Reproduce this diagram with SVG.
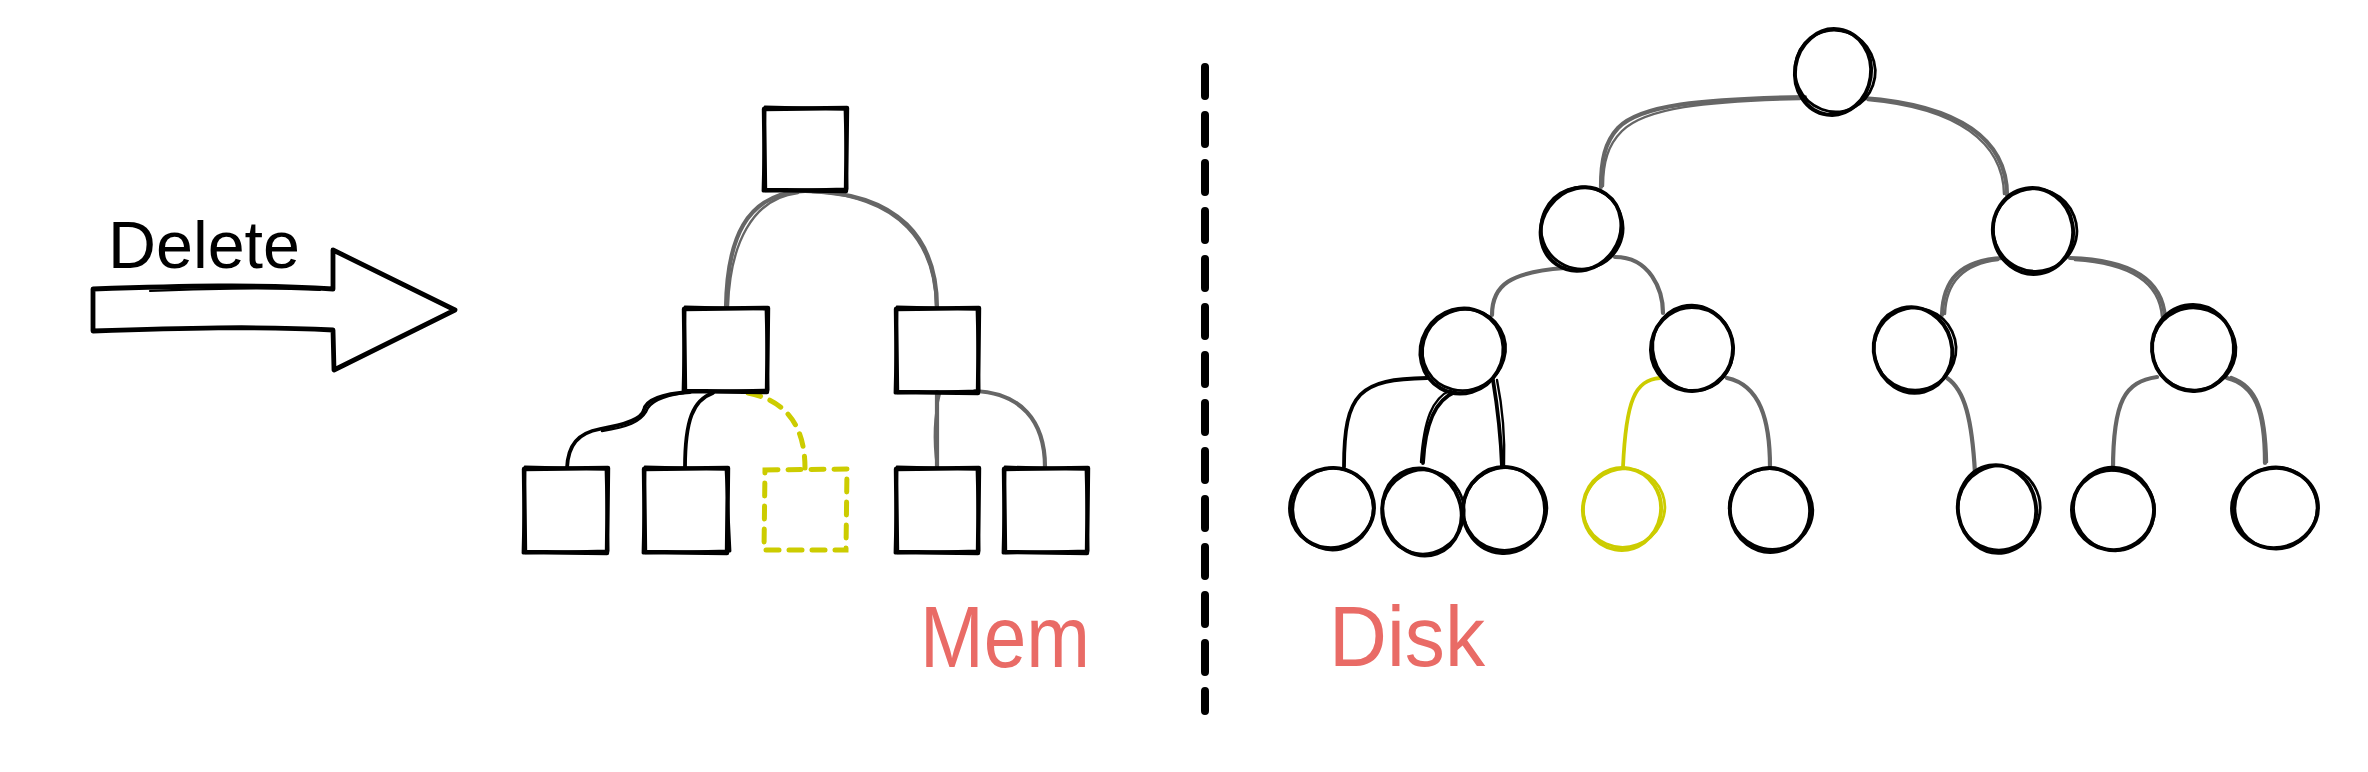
<svg xmlns="http://www.w3.org/2000/svg" width="2368" height="772" viewBox="0 0 2368 772">
<style>
.bg{fill:#ffffff}
.box{fill:none;stroke:#000;stroke-width:4.4;stroke-linejoin:round;stroke-linecap:round}
.box2{fill:none;stroke:#000;stroke-width:2.8;stroke-linejoin:round;stroke-linecap:round}
.ybox{fill:none;stroke:#cccc00;stroke-width:5;stroke-dasharray:13 10;stroke-linecap:round}
.c{fill:none;stroke:#000;stroke-width:3.9}
.c2{fill:none;stroke:#000;stroke-width:2.8}
.yc{fill:none;stroke:#cccc00;stroke-width:3.9}
.yc2{fill:none;stroke:#cccc00;stroke-width:2.8}
.eg{fill:none;stroke:#666;stroke-width:4.2;stroke-linecap:round}
.eg2{fill:none;stroke:#666;stroke-width:2.4;stroke-linecap:round}
.eb{fill:none;stroke:#000;stroke-width:3.8;stroke-linecap:round}
.eb2{fill:none;stroke:#000;stroke-width:2.4;stroke-linecap:round}
.ey{fill:none;stroke:#cccc00;stroke-width:3.8;stroke-linecap:round}
.eyd{fill:none;stroke:#cccc00;stroke-width:5;stroke-linecap:round;stroke-dasharray:13 10}
.arrow{fill:#fff;stroke:#000;stroke-width:4.8;stroke-linejoin:round}
.arrow2{fill:none;stroke:#000;stroke-width:2.2;stroke-linecap:round}
.divider{fill:none;stroke:#000;stroke-width:8;stroke-dasharray:29 19;stroke-linecap:round}
.t{font-family:"Liberation Sans",Arial,sans-serif}
.lbl{fill:#e96b66}
</style>
<rect class="bg" x="0" y="0" width="2368" height="772"/>

<g id="delete-arrow">
<path class="arrow" d="M93 289 C180 286 260 284 333 289 L333 250 L455 310 L334 370 L333 330 C260 326 180 328 93 331 Z"/>
<path class="arrow2" d="M150 291 C220 288 270 287 320 290"/>
<path class="arrow2" d="M150 329 C220 326 270 327 320 329"/>
<text class="t" x="108" y="268" font-size="66" textLength="192" lengthAdjust="spacingAndGlyphs" fill="#000">Delete</text>
</g>

<g id="divider">
<path class="divider" d="M1205 67 L1205 711"/>
</g>

<g id="connectors">
<!-- Mem tree -->
<path class="eg" d="M805 191 C745 193 727 240 726 308"/>
<path class="eg2" d="M798 193 C752 198 730 245 728 306"/>
<path class="eg" d="M805 191 C900 192 937 240 937 308"/>
<path class="eg2" d="M812 192 C902 196 935 245 936 306"/>
<path class="eb" d="M690 392 C660 394 646 400 644 410 C642 418 630 424 600 429 C578 433 568 445 567 468"/>
<path class="eb2" d="M684 393 C662 396 649 402 646 412 C640 422 628 427 602 431"/>
<path class="eb" d="M713 393 C693 400 685 420 685 468"/>
<path class="eyd" d="M748 393 C785 400 805 425 805 468"/>
<path class="eg" d="M937 392 L937 468"/>
<path class="eg2" d="M940 393 C933 420 934 445 937 467"/>
<path class="eg" d="M975 391 C1020 393 1045 420 1045 467"/>
<!-- Disk tree -->
<path class="eg" d="M1805 97 C1700 99 1640 105 1618 128 C1605 142 1601 160 1601 187"/>
<path class="eg2" d="M1800 99 C1705 101 1645 108 1622 131 C1608 145 1603 162 1603 186"/>
<path class="eg" d="M1863 98 C1960 105 2007 140 2007 195"/>
<path class="eg2" d="M1868 100 C1958 108 2003 143 2004 194"/>
<path class="eg" d="M1565 268 C1510 272 1492 285 1492 315"/>
<path class="eg" d="M1615 257 C1650 257 1663 290 1663 313"/>
<path class="eb" d="M1427 378 C1360 379 1344 392 1344 467"/>
<path class="eb" d="M1455 392 C1435 400 1425 425 1423 463"/>
<path class="eb2" d="M1451 390 C1432 398 1424 420 1421 462"/>
<path class="eb" d="M1493 380 C1498 410 1501 440 1502 467"/>
<path class="eb2" d="M1497 380 C1503 410 1505 440 1504 467"/>
<path class="ey" d="M1660 378 C1635 380 1626 400 1623 467"/>
<path class="eg" d="M1727 378 C1760 385 1770 420 1770 467"/>
<path class="eg" d="M2003 258 C1960 260 1943 280 1942 315"/>
<path class="eg2" d="M1998 260 C1962 264 1946 284 1945 314"/>
<path class="eg" d="M2070 258 C2140 260 2163 285 2165 318"/>
<path class="eg2" d="M2075 260 C2138 264 2160 288 2162 317"/>
<path class="eg" d="M1947 378 C1965 390 1972 420 1975 473"/>
<path class="eg" d="M2157 377 C2125 382 2113 400 2113 470"/>
<path class="eg" d="M2227 378 C2255 385 2265 410 2265 463"/>
<path class="eg2" d="M2231 377 C2258 386 2266 412 2267 462"/>
</g>

<!-- Mem nodes -->
<g id="mem-root">
<path class="box" d="M764 109 L847 108 L846 191 L765 190 Z"/>
<path class="box2" d="M765 107 L845 109 L847 189 L763 191 Z"/>
</g>
<g id="mem-l">
<path class="box" d="M684 309 L768 308 L767 392 L685 391 Z"/>
<path class="box2" d="M685 307 L766 309 L768 390 L683 392 Z"/>
</g>
<g id="mem-r">
<path class="box" d="M896 309 L979 308 L978 393 L897 392 Z"/>
<path class="box2" d="M897 307 L977 309 L979 391 L895 393 Z"/>
</g>
<g id="mem-leaf1">
<path class="box" d="M524 469 L608 468 L607 553 L525 552 Z"/>
<path class="box2" d="M525 467 L606 469 L608 551 L523 553 Z"/>
</g>
<g id="mem-leaf2">
<path class="box" d="M644 469 L728 468 L727 553 L645 552 Z"/>
<path class="box2" d="M645 467 L726 469 L730 551 L643 553 Z"/>
</g>
<g id="mem-leaf3-deleted">
<path class="ybox" d="M765 470 L847 469 L846 550 L764 550 Z"/>
</g>
<g id="mem-leaf4">
<path class="box" d="M896 469 L979 468 L978 553 L897 552 Z"/>
<path class="box2" d="M897 467 L977 469 L979 551 L895 553 Z"/>
</g>
<g id="mem-leaf5">
<path class="box" d="M1004 469 L1088 468 L1087 553 L1005 552 Z"/>
<path class="box2" d="M1005 467 L1086 469 L1088 551 L1003 553 Z"/>
</g>
<g id="mem-label">
<text class="t lbl" x="920" y="667" font-size="88" textLength="170" lengthAdjust="spacingAndGlyphs">Mem</text>
</g>

<!-- Disk nodes -->
<g id="disk-root">
<ellipse class="c" cx="1833" cy="72" rx="38" ry="43" transform="rotate(8 1833 72)"/>
<ellipse class="c2" cx="1835" cy="71" rx="40" ry="41" transform="rotate(-25 1835 71)"/>
</g>
<g id="disk-l1a">
<ellipse class="c" cx="1581" cy="229" rx="39" ry="43" transform="rotate(35 1581 229)"/>
<ellipse class="c2" cx="1582" cy="228" rx="41" ry="41" transform="rotate(-20 1582 228)"/>
</g>
<g id="disk-l1b">
<ellipse class="c" cx="2033" cy="231" rx="40" ry="43" transform="rotate(-10 2033 231)"/>
<ellipse class="c2" cx="2035" cy="230" rx="42" ry="41" transform="rotate(25 2035 230)"/>
</g>
<g id="disk-l2a">
<ellipse class="c" cx="1462" cy="351" rx="41" ry="43" transform="rotate(30 1462 351)"/>
<ellipse class="c2" cx="1464" cy="350" rx="42" ry="40" transform="rotate(-30 1464 350)"/>
</g>
<g id="disk-l2b">
<ellipse class="c" cx="1692" cy="349" rx="41" ry="42" transform="rotate(10 1692 349)"/>
<ellipse class="c2" cx="1693" cy="348" rx="40" ry="43" transform="rotate(-15 1693 348)"/>
</g>
<g id="disk-l2c">
<ellipse class="c" cx="1913" cy="350" rx="39" ry="43" transform="rotate(-15 1913 350)"/>
<ellipse class="c2" cx="1915" cy="349" rx="41" ry="41" transform="rotate(20 1915 349)"/>
</g>
<g id="disk-l2d">
<ellipse class="c" cx="2193" cy="348" rx="41" ry="43" transform="rotate(-5 2193 348)"/>
<ellipse class="c2" cx="2194" cy="349" rx="42" ry="41" transform="rotate(20 2194 349)"/>
</g>
<g id="disk-leaf1">
<ellipse class="c" cx="1332" cy="508" rx="42" ry="40" transform="rotate(-10 1332 508)"/>
<ellipse class="c2" cx="1333" cy="509" rx="40" ry="41" transform="rotate(20 1333 509)"/>
</g>
<g id="disk-leaf2">
<ellipse class="c" cx="1422" cy="512" rx="39" ry="44" transform="rotate(-20 1422 512)"/>
<ellipse class="c2" cx="1423" cy="512" rx="41" ry="42" transform="rotate(15 1423 512)"/>
</g>
<g id="disk-leaf3">
<ellipse class="c" cx="1504" cy="510" rx="41" ry="43" transform="rotate(5 1504 510)"/>
<ellipse class="c2" cx="1505" cy="509" rx="42" ry="41" transform="rotate(-30 1505 509)"/>
</g>
<g id="disk-leaf4-deleted">
<ellipse class="yc" cx="1622" cy="509" rx="39" ry="41" transform="rotate(10 1622 509)"/>
<ellipse class="yc2" cx="1624" cy="508" rx="41" ry="39" transform="rotate(-20 1624 508)"/>
</g>
<g id="disk-leaf5">
<ellipse class="c" cx="1770" cy="510" rx="40" ry="42" transform="rotate(-10 1770 510)"/>
<ellipse class="c2" cx="1771" cy="509" rx="42" ry="40" transform="rotate(25 1771 509)"/>
</g>
<g id="disk-leaf6">
<ellipse class="c" cx="1997" cy="509" rx="39" ry="44" transform="rotate(-10 1997 509)"/>
<ellipse class="c2" cx="1999" cy="508" rx="41" ry="42" transform="rotate(15 1999 508)"/>
</g>
<g id="disk-leaf7">
<ellipse class="c" cx="2113" cy="510" rx="41" ry="40" transform="rotate(10 2113 510)"/>
<ellipse class="c2" cx="2114" cy="509" rx="40" ry="42" transform="rotate(-25 2114 509)"/>
</g>
<g id="disk-leaf8">
<ellipse class="c" cx="2275" cy="508" rx="43" ry="40" transform="rotate(-8 2275 508)"/>
<ellipse class="c2" cx="2276" cy="508" rx="41" ry="41" transform="rotate(20 2276 508)"/>
</g>
<g id="disk-label">
<text class="t lbl" x="1329" y="666" font-size="86" textLength="156" lengthAdjust="spacingAndGlyphs">Disk</text>
</g>
</svg>
